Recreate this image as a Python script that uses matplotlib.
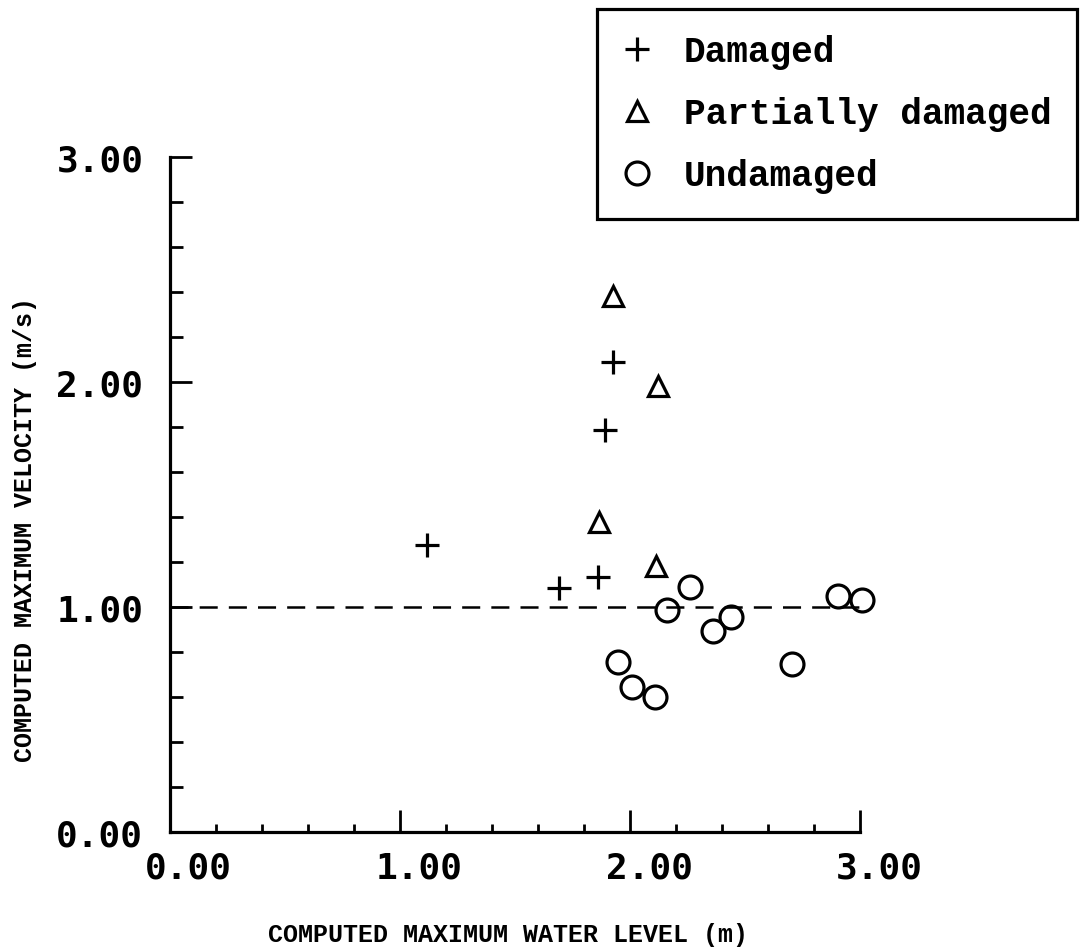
import matplotlib
matplotlib.use('Agg')
import matplotlib.pyplot as plt
import matplotlib.transforms as mtransforms
from matplotlib.ticker import MultipleLocator

# Damaged (+)
dam_x = [1.116, 1.693, 1.862, 1.893, 1.925]
dam_y = [1.277, 1.083, 1.135, 1.787, 2.088]

# Partially damaged (triangles)
part_x = [1.927, 2.121, 1.864, 2.113]
part_y = [2.384, 1.981, 1.379, 1.181]

# Undamaged (circles)
und_x = [2.261, 2.160, 2.440, 2.361, 1.946, 2.007, 2.108, 2.704, 2.904, 3.008]
und_y = [1.088, 0.988, 0.954, 0.895, 0.754, 0.646, 0.601, 0.747, 1.050, 1.032]

ticks = [0.0, 1.0, 2.0, 3.0]
tick_labels = ['0.00', '1.00', '2.00', '3.00']
threshold = 1.0

plt.rcParams['lines.scale_dashes'] = False
txtfont = 'Liberation Mono'
numfont = 'DejaVu Sans Mono'

fig = plt.figure(figsize=(10.81, 9.53), dpi=100)
ax = fig.add_axes([0.157, 0.1259, 0.6387, 0.7083])

ax.axhline(threshold, xmin=0, xmax=1.01, color='black', lw=1.8, dashes=(13, 8), zorder=1)

ax.plot(dam_x, dam_y, ls='none', marker='+', ms=17, mew=2.3, color='black',
        label='Damaged', clip_on=False, zorder=3)
ax.plot(part_x, part_y, ls='none', marker='^', ms=15, mew=2.3, mfc='white', mec='black',
        label='Partially damaged', clip_on=False, zorder=3)
ax.plot(und_x, und_y, ls='none', marker='o', ms=16.5, mew=2.3, mfc='none', mec='black',
        label='Undamaged', clip_on=False, zorder=3)

ax.set_xlim(0, 3)
ax.set_ylim(0, 3)
for s in ['top', 'right']:
    ax.spines[s].set_visible(False)
for s in ['left', 'bottom']:
    ax.spines[s].set_linewidth(2.3)

ax.set_xticks(ticks)
ax.set_yticks(ticks)
ax.set_xticklabels(tick_labels, family=numfont, fontsize=26, fontweight='bold')
ax.set_yticklabels(tick_labels, family=numfont, fontsize=26, fontweight='bold')
ax.xaxis.set_minor_locator(MultipleLocator(0.2))
ax.yaxis.set_minor_locator(MultipleLocator(0.2))
ax.tick_params(axis='both', which='major', direction='in', length=16, width=2.0)
ax.tick_params(axis='x', which='minor', direction='in', length=6, width=2.0)
ax.tick_params(axis='y', which='minor', direction='in', length=9, width=2.0)
ax.tick_params(axis='x', which='major', pad=13)
ax.tick_params(axis='y', which='major', pad=19)

# x tick labels sit a bit to the right of their ticks
off = mtransforms.ScaledTranslation(19 / 100, 0, fig.dpi_scale_trans)
for lbl in ax.get_xticklabels():
    lbl.set_transform(lbl.get_transform() + off)

ax.set_xlabel('COMPUTED MAXIMUM WATER LEVEL (m)', family=txtfont, fontweight='bold',
              fontsize=18, va='center')
ax.xaxis.set_label_coords(0.49, -0.151)
ax.set_ylabel('COMPUTED MAXIMUM VELOCITY (m/s)', family=txtfont, fontweight='bold',
              fontsize=18, va='center')
ax.yaxis.set_label_coords(-0.21, 0.449)

leg = ax.legend(loc='upper right', bbox_to_anchor=(1077 / 1081, 1 - 10 / 953),
                bbox_transform=fig.transFigure, borderaxespad=0, fancybox=False,
                edgecolor='black', framealpha=1, handlelength=0.8, handletextpad=0.9,
                labelspacing=0.75, borderpad=0.7,
                prop={'family': txtfont, 'weight': 'bold', 'size': 26})
leg.get_frame().set_linewidth(2.3)

plt.savefig('out.png', dpi=100)
plt.close()
